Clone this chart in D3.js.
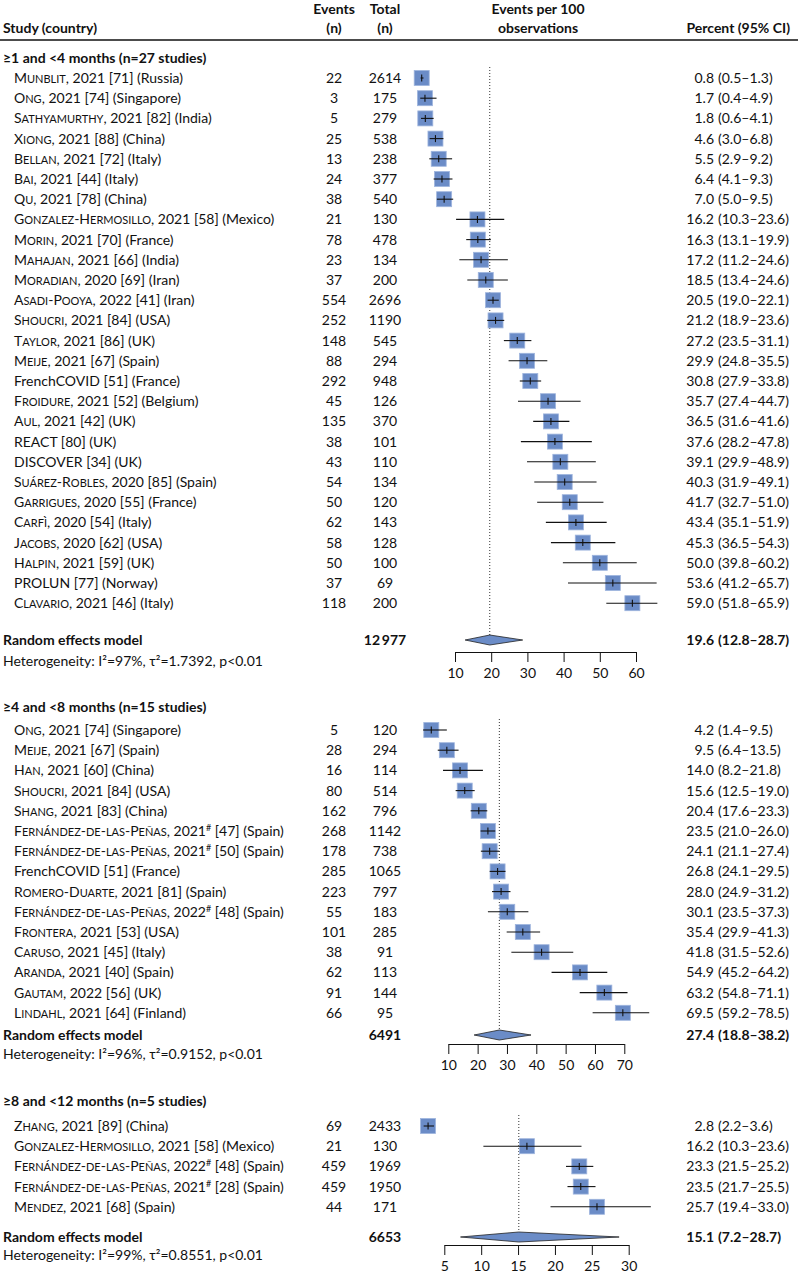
<!DOCTYPE html>
<html><head><meta charset="utf-8">
<script src="https://cdn.jsdelivr.net/npm/d3@7"></script>
<style>
html,body{margin:0;padding:0;background:#fff;}
svg text{font-family:Lato,"Noto Sans",sans-serif;font-size:14px;fill:#111;}
.b{font-weight:bold;}
</style></head><body>
<svg id="c" width="798" height="1277"></svg>
<script>
// ---------- DATA ----------
// Panel 1: ≥1 and <4 months
const p1Author = ["Munblit","Ong","Sathyamurthy","Xiong","Bellan","Bai","Qu","Gonzalez-Hermosillo","Morin","Mahajan","Moradian","Asadi-Pooya","Shoucri","Taylor","Meije","FrenchCOVID","Froidure","Aul","REACT","DISCOVER","Suárez-Robles","Garrigues","Carfì","Jacobs","Halpin","PROLUN","Clavario"];
const p1Rest = [", 2021 [71] (Russia)",", 2021 [74] (Singapore)",", 2021 [82] (India)",", 2021 [88] (China)",", 2021 [72] (Italy)",", 2021 [44] (Italy)",", 2021 [78] (China)",", 2021 [58] (Mexico)",", 2021 [70] (France)",", 2021 [66] (India)",", 2020 [69] (Iran)",", 2022 [41] (Iran)",", 2021 [84] (USA)",", 2021 [86] (UK)",", 2021 [67] (Spain)"," [51] (France)",", 2021 [52] (Belgium)",", 2021 [42] (UK)"," [80] (UK)"," [34] (UK)",", 2020 [85] (Spain)",", 2020 [55] (France)",", 2020 [54] (Italy)",", 2020 [62] (USA)",", 2021 [59] (UK)"," [77] (Norway)",", 2021 [46] (Italy)"];
const p1Events = [22,3,5,25,13,24,38,21,78,23,37,554,252,148,88,292,45,135,38,43,54,50,62,58,50,37,118];
const p1Totals = [2614,175,279,538,238,377,540,130,478,134,200,2696,1190,545,294,948,126,370,101,110,134,120,143,128,100,69,200];
const p1Est = [0.8,1.7,1.8,4.6,5.5,6.4,7.0,16.2,16.3,17.2,18.5,20.5,21.2,27.2,29.9,30.8,35.7,36.5,37.6,39.1,40.3,41.7,43.4,45.3,50.0,53.6,59.0];
const p1Lo = [0.5,0.4,0.6,3.0,2.9,4.1,5.0,10.3,13.1,11.2,13.4,19.0,18.9,23.5,24.8,27.9,27.4,31.6,28.2,29.9,31.9,32.7,35.1,36.5,39.8,41.2,51.8];
const p1Hi = [1.3,4.9,4.1,6.8,9.2,9.3,9.5,23.6,19.9,24.6,24.6,22.1,23.6,31.1,35.5,33.8,44.7,41.6,47.8,48.9,49.1,51.0,51.9,54.3,60.2,65.7,65.9];
const p1Summary = {total:"12\u2009977", est:19.6, lo:12.8, hi:28.7, het:"Heterogeneity: I²=97%, τ²=1.7392, p<0.01"};
const p1Ticks = [10,20,30,40,50,60];

// Panel 2: ≥4 and <8 months
const p2Author = ["Ong","Meije","Han","Shoucri","Shang","Fernández-de-las-Peñas","Fernández-de-las-Peñas","FrenchCOVID","Romero-Duarte","Fernández-de-las-Peñas","Frontera","Caruso","Aranda","Gautam","Lindahl"];
const p2Rest = [", 2021 [74] (Singapore)",", 2021 [67] (Spain)",", 2021 [60] (China)",", 2021 [84] (USA)",", 2021 [83] (China)",", 2021# [47] (Spain)",", 2021# [50] (Spain)"," [51] (France)",", 2021 [81] (Spain)",", 2022# [48] (Spain)",", 2021 [53] (USA)",", 2021 [45] (Italy)",", 2021 [40] (Spain)",", 2022 [56] (UK)",", 2021 [64] (Finland)"];
const p2Events = [5,28,16,80,162,268,178,285,223,55,101,38,62,91,66];
const p2Totals = [120,294,114,514,796,1142,738,1065,797,183,285,91,113,144,95];
const p2Est = [4.2,9.5,14.0,15.6,20.4,23.5,24.1,26.8,28.0,30.1,35.4,41.8,54.9,63.2,69.5];
const p2Lo = [1.4,6.4,8.2,12.5,17.6,21.0,21.1,24.1,24.9,23.5,29.9,31.5,45.2,54.8,59.2];
const p2Hi = [9.5,13.5,21.8,19.0,23.3,26.0,27.4,29.5,31.2,37.3,41.3,52.6,64.2,71.1,78.5];
const p2Summary = {total:"6491", est:27.4, lo:18.8, hi:38.2, het:"Heterogeneity: I²=96%, τ²=0.9152, p<0.01"};
const p2Ticks = [10,20,30,40,50,60,70];

// Panel 3: ≥8 and <12 months
const p3Author = ["Zhang","Gonzalez-Hermosillo","Fernández-de-las-Peñas","Fernández-de-las-Peñas","Mendez"];
const p3Rest = [", 2021 [89] (China)",", 2021 [58] (Mexico)",", 2022# [48] (Spain)",", 2021# [28] (Spain)",", 2021 [68] (Spain)"];
const p3Events = [69,21,459,459,44];
const p3Totals = [2433,130,1969,1950,171];
const p3Est = [2.8,16.2,23.3,23.5,25.7];
const p3Lo = [2.2,10.3,21.5,21.7,19.4];
const p3Hi = [3.6,23.6,25.2,25.5,33.0];
const p3Summary = {total:"6653", est:15.1, lo:7.2, hi:28.7, het:"Heterogeneity: I²=99%, τ²=0.8551, p<0.01"};
const p3Ticks = [5,10,15,20,25,30];

const groupTitles = ["≥1 and <4 months (n=27 studies)","≥4 and <8 months (n=15 studies)","≥8 and <12 months (n=5 studies)"];
const plainNames = ["FrenchCOVID","REACT","DISCOVER","PROLUN"];

// ---------- LAYOUT ----------
const panels = [
  {author:p1Author,rest:p1Rest,ev:p1Events,tot:p1Totals,est:p1Est,lo:p1Lo,hi:p1Hi,sum:p1Summary,ticks:p1Ticks,
   head:58,y0:78,dy:20.2,re:640,het:661,axis:652,dotTop:67,range:[455,636]},
  {author:p2Author,rest:p2Rest,ev:p2Events,tot:p2Totals,est:p2Est,lo:p2Lo,hi:p2Hi,sum:p2Summary,ticks:p2Ticks,
   head:707,y0:730,dy:20.2,re:1035,het:1054,axis:1044,dotTop:719,range:[448.3,624.3]},
  {author:p3Author,rest:p3Rest,ev:p3Events,tot:p3Totals,est:p3Est,lo:p3Lo,hi:p3Hi,sum:p3Summary,ticks:p3Ticks,
   head:1101,y0:1126,dy:20.2,re:1237,het:1255,axis:1245,dotTop:1115,range:[444.3,628.7]}
];
const X_EV = 334, X_TOT = 385, X_EST = 714, X_CI = 718;
const SQ = 15, BLUE = "#6b8cc7";

const svg = d3.select("#c");

// small caps helper: uppercase letters full size, lowercase as reduced capitals
function smallCaps(sel, name){
  const runs = [];
  for(const ch of name){
    const lower = ch !== ch.toUpperCase();
    if(runs.length && runs[runs.length-1].lower === lower) runs[runs.length-1].t += ch;
    else runs.push({lower, t:ch});
  }
  runs.forEach(r=>{
    const ts = sel.append("tspan").text(r.lower ? r.t.toUpperCase() : r.t);
    if(r.lower) ts.attr("font-size","11px");
  });
}

// header
const hdr = svg.append("g");
hdr.append("text").attr("class","b").attr("x",3).attr("y",33).text("Study (country)");
[["Events",X_EV],["Total",X_TOT],["Events per 100",538]].forEach(([t,x])=>{
  hdr.append("text").attr("class","b").attr("x",x).attr("y",14).attr("text-anchor","middle").text(t);
});
[["(n)",X_EV],["(n)",X_TOT],["observations",538]].forEach(([t,x])=>{
  hdr.append("text").attr("class","b").attr("x",x).attr("y",33).attr("text-anchor","middle").text(t);
});
hdr.append("text").attr("class","b").attr("x",790).attr("y",33).attr("text-anchor","end").text("Percent (95% CI)");
hdr.append("line").attr("x1",0).attr("x2",798).attr("y1",40).attr("y2",40).attr("stroke","#111").attr("stroke-width",1.5);

panels.forEach((p,pi)=>{
  const g = svg.append("g");
  const ext = [p.ticks[0], p.ticks[p.ticks.length-1]];
  const x = d3.scaleLinear().domain(ext).range(p.range);
  const y = i => p.y0 + i*p.dy;

  g.append("text").attr("class","b").attr("x",3).attr("y",p.head+5).text(groupTitles[pi]);

  // dotted reference line
  g.append("line").attr("x1",x(p.sum.est)).attr("x2",x(p.sum.est))
    .attr("y1",p.dotTop).attr("y2",p.re-5)
    .attr("stroke","#333").attr("stroke-width",1).attr("stroke-dasharray","1,2");

  const rows = p.est.map((e,i)=>({i,author:p.author[i],rest:p.rest[i],ev:p.ev[i],tot:p.tot[i],est:e,lo:p.lo[i],hi:p.hi[i]}));

  // labels
  g.selectAll("text.lab").data(rows).join("text").attr("class","lab")
    .attr("x",14).attr("y",d=>y(d.i)+5)
    .each(function(d){
      const t = d3.select(this);
      if(plainNames.includes(d.author)) t.append("tspan").text(d.author);
      else smallCaps(t, d.author);
      const parts = d.rest.split("#");
      t.append("tspan").text(parts[0]);
      if(parts.length>1){
        t.append("tspan").attr("dy",-5).attr("font-size","9px").text("#");
        t.append("tspan").attr("dy",5).text(parts[1]);
      }
    });
  g.selectAll("text.ev").data(rows).join("text").attr("class","ev")
    .attr("x",X_EV).attr("y",d=>y(d.i)+5).attr("text-anchor","middle").text(d=>d.ev);
  g.selectAll("text.tot").data(rows).join("text").attr("class","tot")
    .attr("x",X_TOT).attr("y",d=>y(d.i)+5).attr("text-anchor","middle").text(d=>d.tot);
  g.selectAll("text.est").data(rows).join("text").attr("class","est")
    .attr("x",X_EST).attr("y",d=>y(d.i)+5).attr("text-anchor","end").text(d=>d.est.toFixed(1));
  g.selectAll("text.ci").data(rows).join("text").attr("class","ci")
    .attr("x",X_CI).attr("y",d=>y(d.i)+5).text(d=>`(${d.lo.toFixed(1)}–${d.hi.toFixed(1)})`);

  // squares
  g.selectAll("rect.sq").data(rows).join("rect").attr("class","sq")
    .attr("x",d=>x(d.est)-SQ/2).attr("y",d=>y(d.i)-SQ/2).attr("width",SQ).attr("height",SQ)
    .attr("fill",BLUE).attr("stroke","#9fb5de").attr("stroke-width",0.8);
  g.selectAll("line.ci").data(rows).join("line").attr("class","ci")
    .attr("x1",d=>x(d.lo)).attr("x2",d=>x(d.hi)).attr("y1",d=>y(d.i)).attr("y2",d=>y(d.i))
    .attr("stroke","#111").attr("stroke-width",1.1);
  g.selectAll("line.pt").data(rows).join("line").attr("class","pt")
    .attr("x1",d=>x(d.est)).attr("x2",d=>x(d.est)).attr("y1",d=>y(d.i)-3.5).attr("y2",d=>y(d.i)+3.5)
    .attr("stroke","#111").attr("stroke-width",1.1);

  // summary
  g.append("text").attr("class","b").attr("x",3).attr("y",p.re+5).text("Random effects model");
  g.append("text").attr("class","b").attr("x",X_TOT).attr("y",p.re+5).attr("text-anchor","middle").text(p.sum.total);
  g.append("text").attr("class","b").attr("x",X_EST).attr("y",p.re+5).attr("text-anchor","end").text(p.sum.est.toFixed(1));
  g.append("text").attr("class","b").attr("x",X_CI).attr("y",p.re+5).text(`(${p.sum.lo.toFixed(1)}–${p.sum.hi.toFixed(1)})`);
  g.append("polygon")
    .attr("points",[[x(p.sum.lo),p.re],[x(p.sum.est),p.re-5],[x(p.sum.hi),p.re],[x(p.sum.est),p.re+5]].join(" "))
    .attr("fill",BLUE).attr("stroke","#222").attr("stroke-width",0.8);
  g.append("text").attr("x",3).attr("y",p.het+5).text(p.sum.het);

  // axis
  const ax = g.append("g").attr("transform",`translate(0,${p.axis})`)
    .call(d3.axisBottom(x).tickValues(p.ticks).tickSize(10).tickSizeOuter(0).tickPadding(6).tickFormat(d3.format("d")));
  ax.select(".domain").attr("stroke","#111");
  ax.selectAll(".tick line").attr("stroke","#111");
  ax.selectAll(".tick text").style("font-family","Lato,sans-serif").style("font-size","14px").attr("fill","#111");
});
</script>
</body></html>
